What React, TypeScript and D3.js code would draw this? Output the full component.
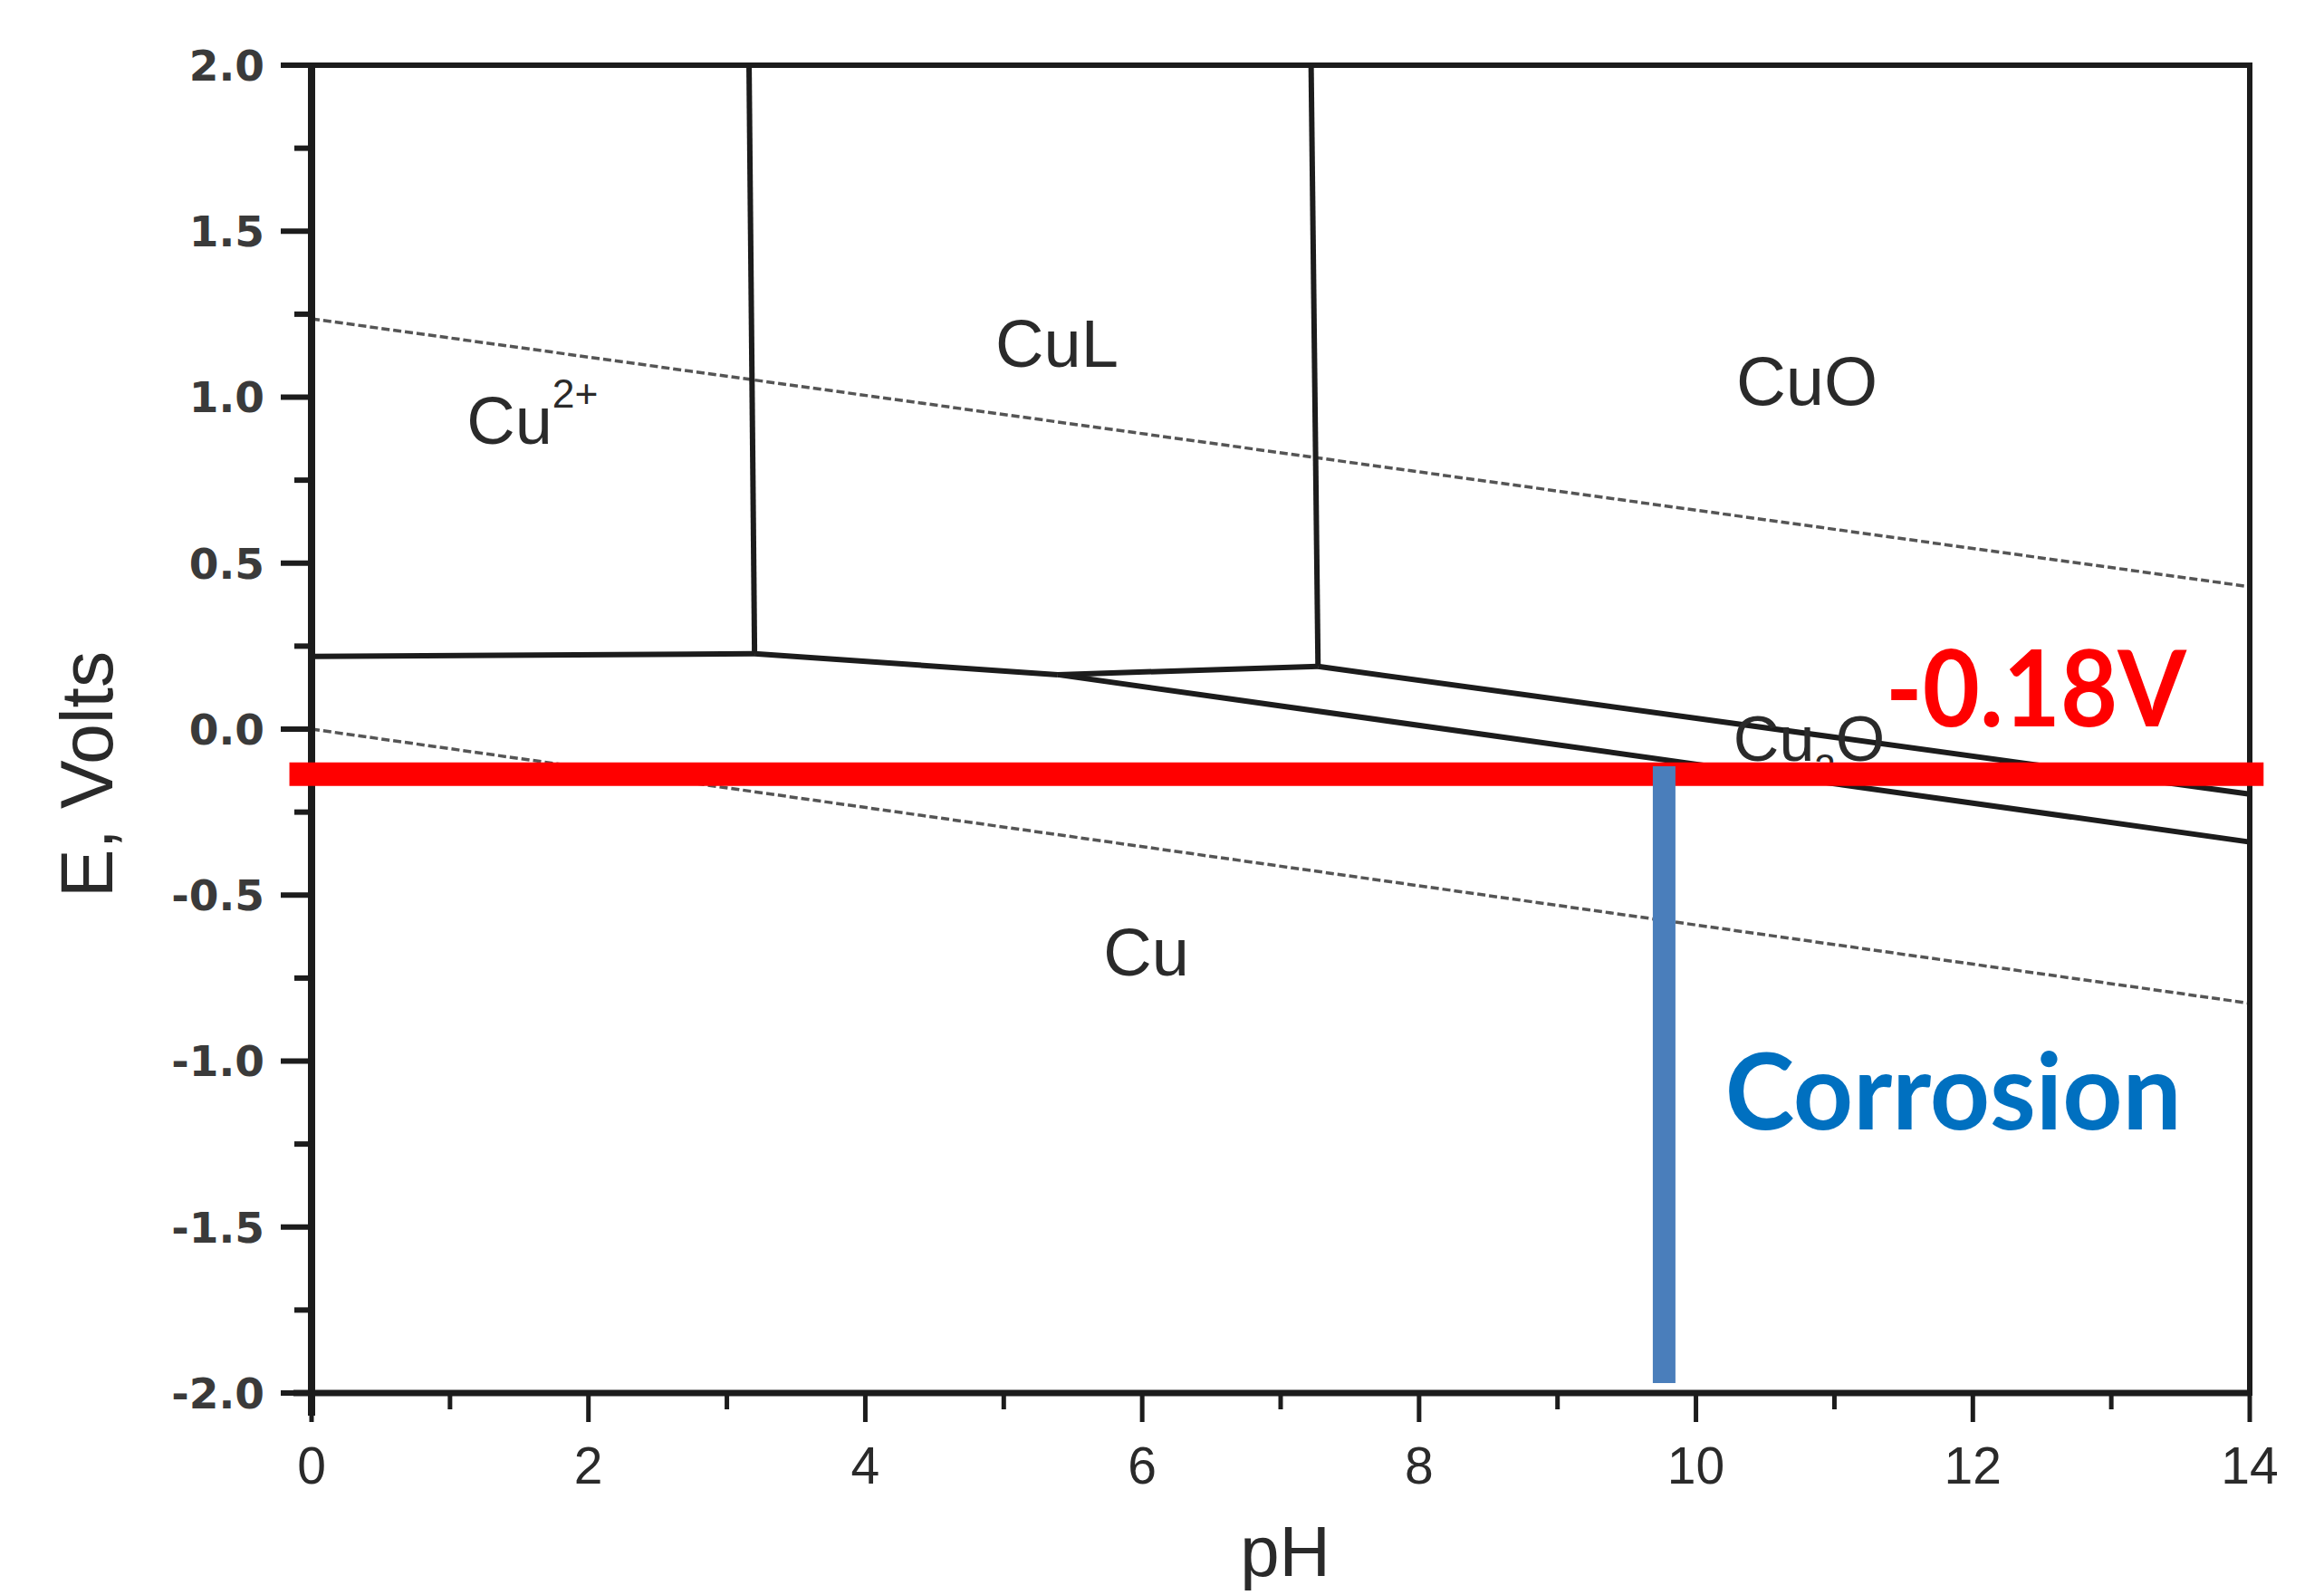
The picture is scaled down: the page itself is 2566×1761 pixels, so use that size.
import React from 'react';
import * as d3 from 'd3';

const W = 2566;
const H = 1761;

// axes
const phDomain: [number, number] = [0, 14];
const eDomain: [number, number] = [-2, 2];
const xMajorTicks = [0, 2, 4, 6, 8, 10, 12, 14];
const xMinorTicks = [1, 3, 5, 7, 9, 11, 13];
const yMajorTicks = [2.0, 1.5, 1.0, 0.5, 0.0, -0.5, -1.0, -1.5, -2.0];
const yMinorTicks = [1.75, 1.25, 0.75, 0.25, -0.25, -0.75, -1.25, -1.75];

// phase boundaries, [pH, E (V)]
const cu2CuBoundary: [number, number][] = [[0, 0.219], [3.2, 0.227]];
const cu2CuLBoundary: [number, number][] = [[3.16, 2.0], [3.2, 0.227]];
const cuLCuOBoundary: [number, number][] = [[7.22, 2.0], [7.27, 0.189]];
const cuLCuBoundary: [number, number][] = [[3.2, 0.227], [5.39, 0.164]];
const cuLCu2OBoundary: [number, number][] = [[5.39, 0.164], [7.27, 0.189]];
const cuOCu2OBoundary: [number, number][] = [[7.27, 0.189], [14, -0.196]];
const cu2OCuBoundary: [number, number][] = [[5.39, 0.164], [14, -0.34]];
const solidBoundaries = [cu2CuBoundary, cu2CuLBoundary, cuLCuOBoundary, cuLCuBoundary, cuLCu2OBoundary, cuOCu2OBoundary, cu2OCuBoundary];

// water stability lines (dotted)
const oxygenLine: [number, number][] = [[0, 1.236], [14, 0.429]];
const hydrogenLine: [number, number][] = [[0, 0.0], [14, -0.826]];

// region labels: [name, pH, E]
const regionLabels: { main: string; sup?: string; sub?: string; tail?: string; ph: number; e: number; size: number }[] = [
  { main: 'Cu', sup: '2+', ph: 1.12, e: 0.86, size: 74 },
  { main: 'CuL', ph: 4.94, e: 1.092, size: 74 },
  { main: 'CuO', ph: 10.29, e: 0.977, size: 76 },
  { main: 'Cu', ph: 5.72, e: -0.741, size: 74 },
  { main: 'Cu', sub: '2', tail: 'O', ph: 10.27, e: -0.095, size: 70 },
];

// annotations
const redLineE = -0.136;
const redLinePh: [number, number] = [-0.16, 14.1];
const redLabel = '-0.18V';
const redLabelPos: [number, number] = [11.37, 0.009];
const bluePh = 9.77;
const blueE: [number, number] = [-0.112, -1.97];
const blueLabel = 'Corrosion';
const blueLabelPos: [number, number] = [10.21, -1.205];

export default function App() {
  const x = d3.scaleLinear().domain(phDomain).range([344, 2484]);
  const y = d3.scaleLinear().domain(eDomain).range([1538, 72]);
  const line = d3.line<[number, number]>().x(d => x(d[0])).y(d => y(d[1]));
  const ink = '#1c1c1c';
  const labelFont = '"Liberation Sans", Arial, sans-serif';

  return (
    <svg width={W} height={H} viewBox={`0 0 ${W} ${H}`} style={{ position: 'absolute', left: 0, top: 0, display: 'block', background: '#fff' }}>
      <rect x={0} y={0} width={W} height={H} fill="#fff" />
      {/* dotted water lines */}
      {[oxygenLine, hydrogenLine].map((d, i) => (
        <path key={'w' + i} d={line(d) || ''} fill="none" stroke="#555" strokeWidth={3.5} strokeDasharray="9 4" />
      ))}
      {/* phase boundaries */}
      {solidBoundaries.map((d, i) => (
        <path key={'b' + i} d={line(d) || ''} fill="none" stroke={ink} strokeWidth={6} strokeLinejoin="round" />
      ))}
      {/* frame: top and right */}
      <line x1={x(0)} x2={x(14)} y1={y(2)} y2={y(2)} stroke={ink} strokeWidth={6} />
      <line x1={x(14)} x2={x(14)} y1={y(2) - 3} y2={y(-2) + 3} stroke={ink} strokeWidth={6} />
      {/* y axis */}
      <line x1={x(0)} x2={x(0)} y1={y(2) - 3} y2={y(-2) + 25} stroke={ink} strokeWidth={8} />
      {yMajorTicks.map(t => (
        <g key={'ym' + t}>
          <line x1={x(0) - 34} x2={x(0)} y1={y(t)} y2={y(t)} stroke={ink} strokeWidth={6} />
          <text x={292} y={y(t)} dy="0.36em" textAnchor="end" fontFamily='"DejaVu Sans", sans-serif' fontWeight="bold" fontSize={47} fill="#3a3a3a">{t.toFixed(1)}</text>
        </g>
      ))}
      {yMinorTicks.map(t => (
        <line key={'yn' + t} x1={x(0) - 19} x2={x(0)} y1={y(t)} y2={y(t)} stroke={ink} strokeWidth={6} />
      ))}
      {/* x axis */}
      <line x1={x(0) - 20} x2={x(14)} y1={y(-2)} y2={y(-2)} stroke={ink} strokeWidth={7} />
      {xMajorTicks.map(t => (
        <g key={'xm' + t}>
          <line x1={x(t)} x2={x(t)} y1={y(-2)} y2={y(-2) + 32} stroke={ink} strokeWidth={5} />
          <text x={x(t)} y={1638} textAnchor="middle" fontFamily={labelFont} fontSize={57} fill="#2a2a2a">{t}</text>
        </g>
      ))}
      {xMinorTicks.map(t => (
        <line key={'xn' + t} x1={x(t)} x2={x(t)} y1={y(-2)} y2={y(-2) + 18} stroke={ink} strokeWidth={5} />
      ))}
      {/* axis titles */}
      <text x={1419} y={1740} textAnchor="middle" fontFamily={labelFont} fontSize={78} fill="#2a2a2a">pH</text>
      <text transform="translate(124,855) rotate(-90)" textAnchor="middle" fontFamily={labelFont} fontSize={82} fill="#2a2a2a" textLength={272} lengthAdjust="spacingAndGlyphs">E, Volts</text>
      {/* region labels */}
      {regionLabels.map((l, i) => (
        <text key={'rl' + i} x={x(l.ph)} y={y(l.e)} fontFamily={labelFont} fontSize={l.size} fill="#2a2a2a">
          {l.main}
          {l.sup ? <tspan dy={-40} fontSize={l.size * 0.6}>{l.sup}</tspan> : null}
          {l.sub ? <tspan dy={22} fontSize={l.size * 0.6}>{l.sub}</tspan> : null}
          {l.tail ? <tspan dy={-22}>{l.tail}</tspan> : null}
        </text>
      ))}
      {/* annotations */}
      <line x1={x(redLinePh[0])} x2={x(redLinePh[1])} y1={y(redLineE)} y2={y(redLineE)} stroke="#ff0000" strokeWidth={26} />
      <line x1={x(bluePh)} x2={x(bluePh)} y1={y(blueE[0])} y2={y(blueE[1])} stroke="#4a7ebb" strokeWidth={25} />
      <text x={x(redLabelPos[0])} y={y(redLabelPos[1])} fontFamily="Lato, sans-serif" fontWeight="bold" fontSize={116} fill="#ff0000" textLength={332} lengthAdjust="spacingAndGlyphs">{redLabel}</text>
      <text x={x(blueLabelPos[0])} y={y(blueLabelPos[1])} fontFamily="Lato, sans-serif" fontWeight="bold" fontSize={116} fill="#0070c0" textLength={504} lengthAdjust="spacingAndGlyphs">{blueLabel}</text>
    </svg>
  );
}
